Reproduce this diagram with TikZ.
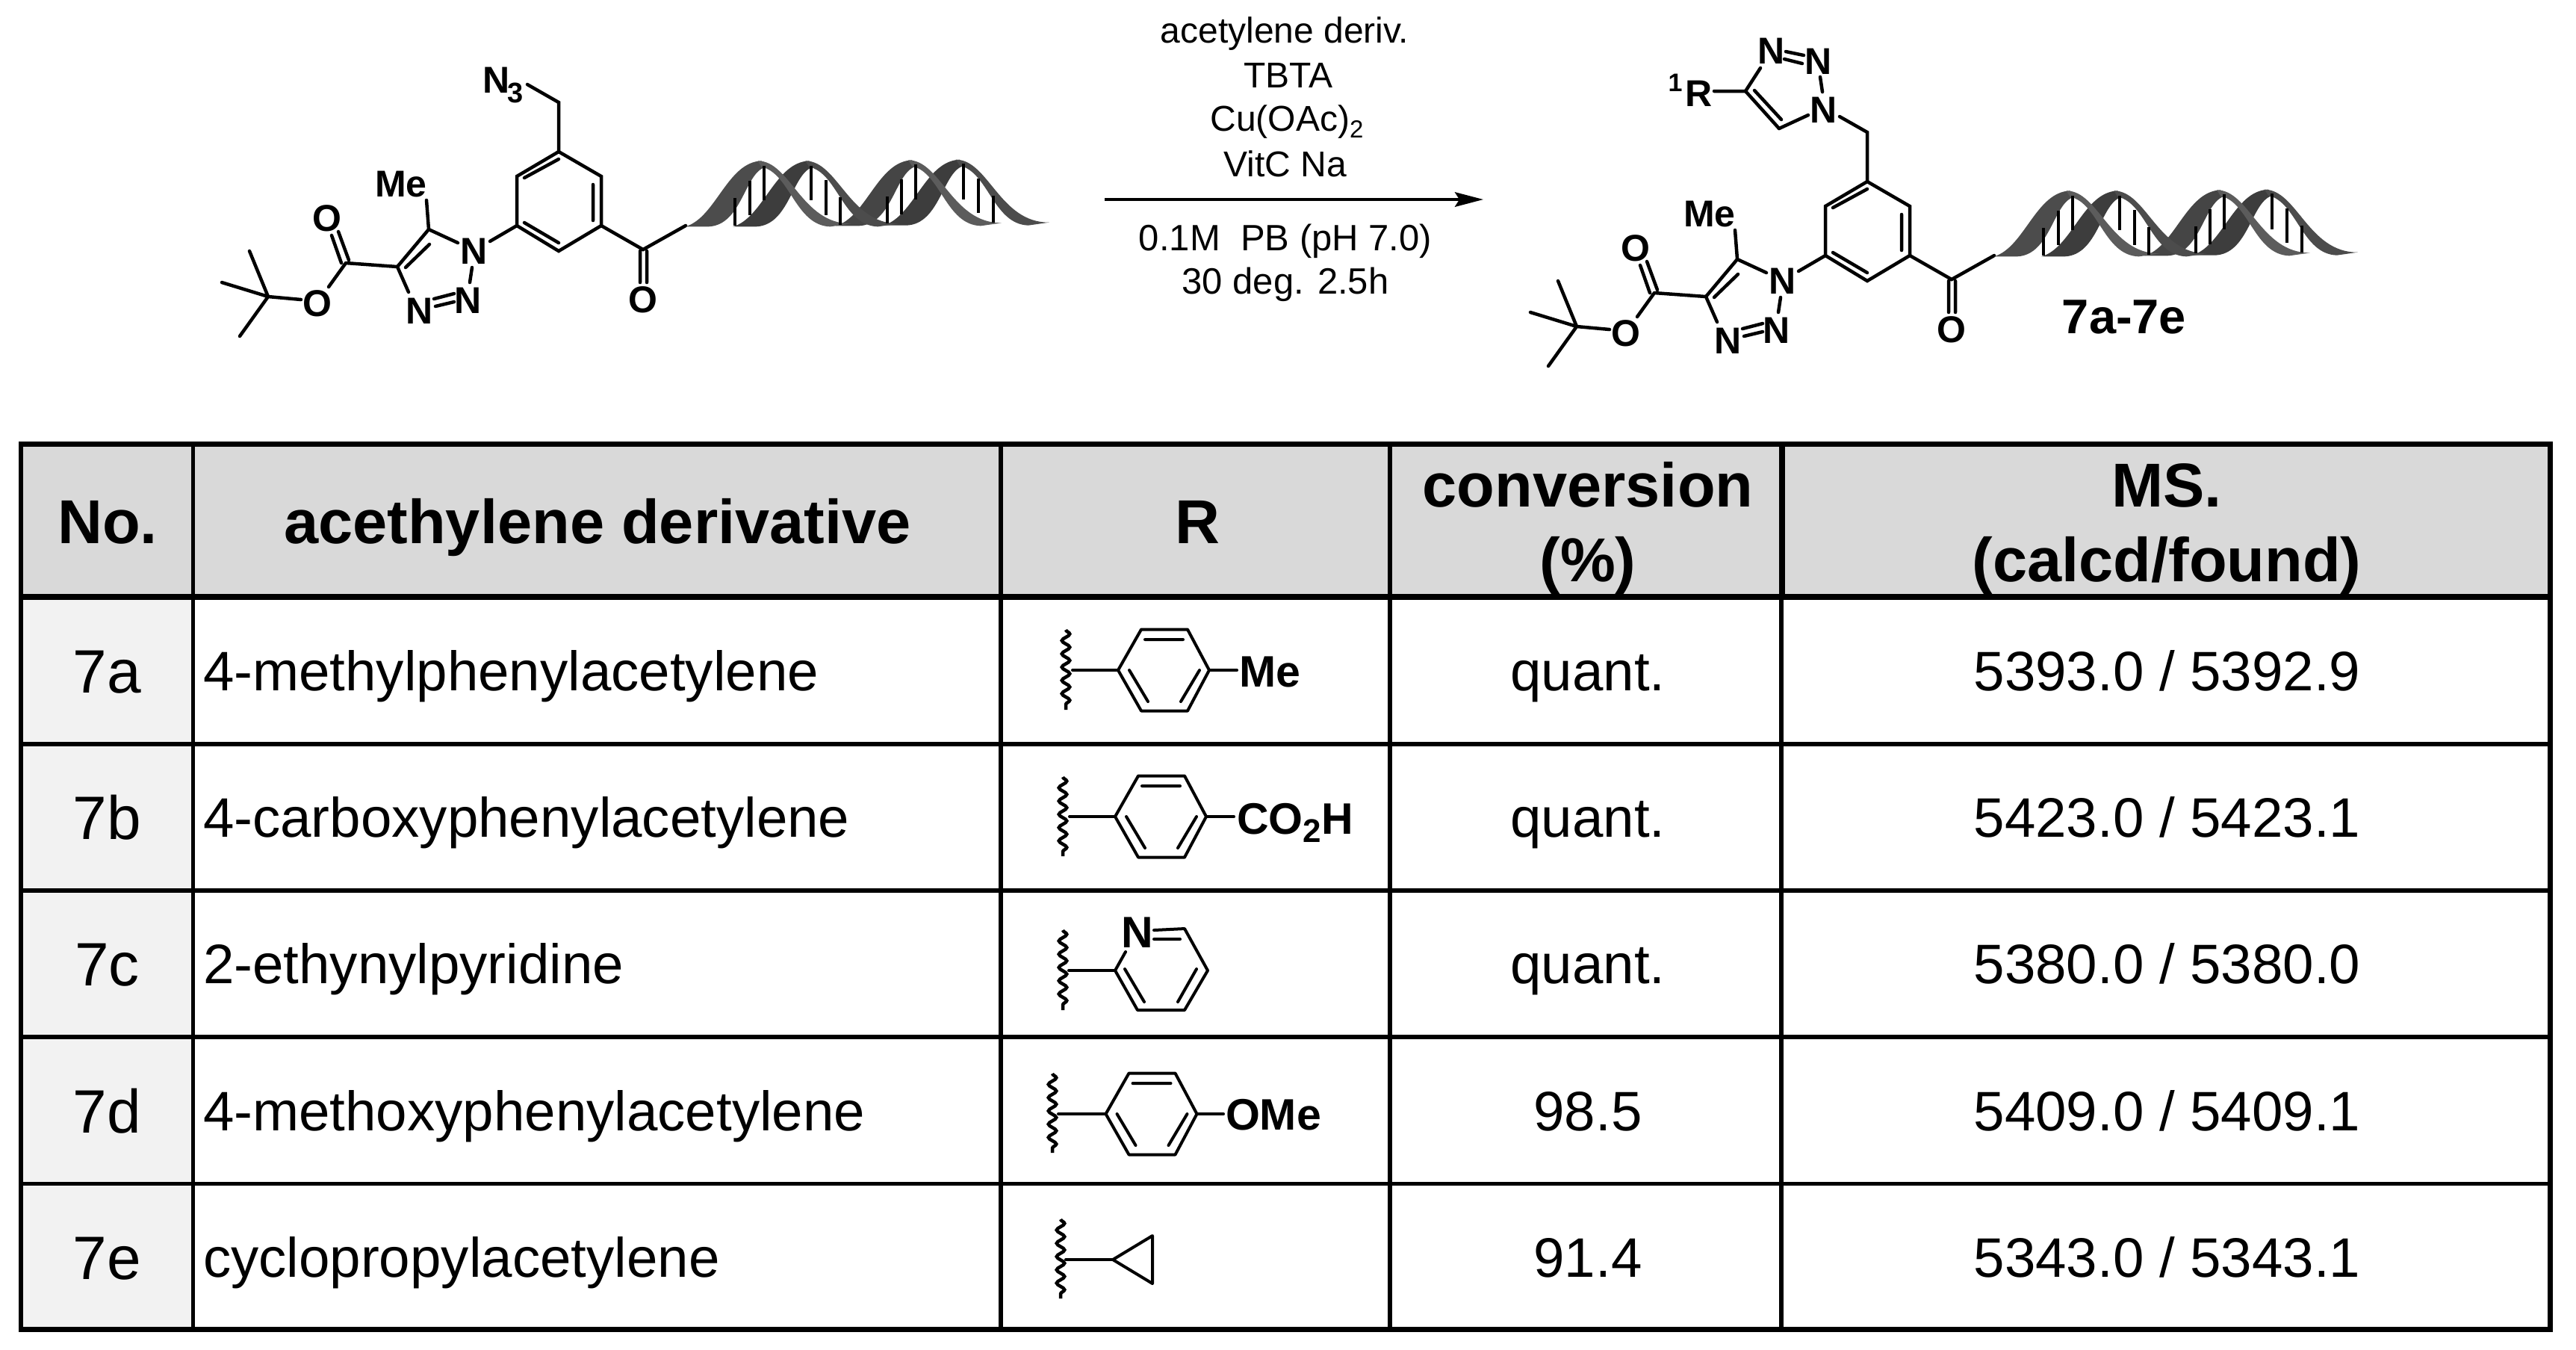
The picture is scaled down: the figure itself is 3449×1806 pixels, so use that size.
\documentclass[tikz,border=0pt]{standalone}
\usepackage{fontspec}
\setmainfont{Liberation Sans}
\usetikzlibrary{arrows.meta,decorations.pathmorphing}
\newcommand\fs[1]{\fontsize{\fpeval{#1*0.2}}{\fpeval{#1*0.24}}\selectfont}
\newcommand\lowsub[2]{\raisebox{-0.2em}{\fs{#1}#2}}
\newcommand\sls{/}
\tikzset{
  x=0.2pt,y=-0.2pt,
  bond/.style={line width=0.9pt,line cap=round,line join=miter},
  rbond/.style={line width=0.8pt,line cap=round,line join=round},
  grid/.style={line width=1.3pt,line cap=rect},
  gridthin/.style={line width=1.1pt},
  gridthick/.style={line width=1.6pt},
  wavy/.style={line width=0.9pt,decorate,decoration={snake,segment length=3.55pt,amplitude=1.05pt}},
  lab/.style={inner sep=0pt,outer sep=0pt,anchor=base},
  atom/.style={lab,font=\fs{50}\bfseries},
  rtxt/.style={lab,font=\fs{48}},
  rtxtb/.style={lab,font=\fs{49}},
  head/.style={lab,font=\fs{83}\bfseries},
  cell/.style={lab,font=\fs{74.5}},
  numcell/.style={lab,font=\fs{82}},
  rlab/.style={lab,anchor=base west,font=\fs{59}\bfseries},
  rung/.style={line width=0.8pt,black},
}
\newcommand\dnarise[3]{\fill[#3,shift={(#1,#2)}] (450,430) .. controls (530,395) and (560,170) .. (650,166) -- (662,190) .. controls (605,210) and (600,425) .. (510,430) -- cycle;}
\newcommand\dnafall[3]{\fill[#3,shift={(#1,#2)}] (640,166) .. controls (725,165) and (755,420) .. (885,418) -- (830,430) .. controls (738,425) and (725,215) .. (650,190) -- cycle;}
\newcommand\molcore[3]{%
\begin{scope}[shift={(#2,#3)}]
 % benzene
 \draw[bond] (748,203) -- (805,236) -- (805,302) -- (748,336) -- (692,302) -- (692,236) -- cycle;
 \draw[bond] (702,238) -- (748,213) (794,247) -- (794,295) (702,298) -- (748,325);
 % triazole
 \draw[bond] (574,307) -- (613,325) (656,323) -- (692,302) (632,358) -- (629,378);
 \draw[bond] (581,400) -- (608,393) (583,410) -- (608,404) (532,357) -- (547,391);
 \draw[bond] (574,307) -- (532,357) (575,327) -- (543,358) (574,307) -- (571,268);
 % ester
 \draw[bond] (463,352) -- (532,357) (463,352) -- (440,384) (444,315) -- (457,352) (453,310) -- (467,348);
 \draw[bond] (403,401) -- (359,397) (334,336) -- (359,397) (297,378) -- (359,397) (321,450) -- (359,397);
 % ketone
 \draw[bond] (805,302) -- (861,334) -- (918,302) (857,336) -- (857,378) (866,336) -- (866,378);
 \node[atom] (#1me) at (537,263) {Me};
 \node[atom] (#1na) at (635,353) {N};
 \node[atom] (#1nb) at (627,419) {N};
 \node[atom] (#1nc) at (562,433) {N};
 \node[atom] (#1oa) at (438,309) {O};
 \node[atom] (#1ob) at (425,423) {O};
 \node[atom] (#1oc) at (861,418) {O};
 \begin{scope}[shift={(688,160)},x=0.10204pt,y=-0.06667pt]
  \dnarise{125}{0}{black!76}
  \dnarise{520}{-5}{black!76}
  \dnarise{0}{0}{black!70}
  \dnarise{395}{-3}{black!73}
  \dnafall{125}{0}{black!70}
  \dnafall{520}{-5}{black!70}
  \dnafall{0}{0}{black!64}
  \dnafall{395}{-3}{black!64}
  \draw[rung] (580,315) -- (580,425) (620,245) -- (620,385) (657,185) -- (657,325);
  \draw[rung] (780,185) -- (780,325) (820,243) -- (820,383) (857,312) -- (857,422);
  \draw[rung] (980,310) -- (980,418) (1018,240) -- (1018,380) (1055,180) -- (1055,320);
  \draw[rung] (1180,178) -- (1180,320) (1220,238) -- (1220,375) (1258,305) -- (1258,415);
 \end{scope}
\end{scope}}
\newcommand\ringR[3]{% centre x, y, id
 \draw[rbond] (#1-61,#2) -- (#1-30,#2-54.5) -- (#1+32,#2-54.5) -- (#1+61,#2) -- (#1+32,#2+54.5) -- (#1-30,#2+54.5) -- cycle;
 \draw[rbond] (#1-25,#2-41) -- (#1+26,#2-41) (#1-46,#2) -- (#1-21,#2+42) (#1+48,#2) -- (#1+23,#2+42);
}
\begin{document}
\begin{tikzpicture}
\useasboundingbox (0,0) rectangle (3449,1806);
% ---------- scheme
\molcore{a}{0}{0}
\draw[bond] (748,203) -- (748,137) -- (706,113);
\node[atom,anchor=base west] (azide) at (646,124) {N};
\node[lab,font=\fs{38}\bfseries] (azidesub) at (690,137) {3};
\molcore{b}{1752}{40}
% product triazole
\draw[bond] (2500,243) -- (2500,177) -- (2463,156);
\draw[bond] (2295,122) -- (2337,122) (2337,122) -- (2357,91) (2337,122) -- (2382,172) (2349,121) -- (2385,160);
\draw[bond] (2382,172) -- (2421,154) (2437,103) -- (2440,123);
\draw[bond] (2391,69) -- (2415,74) (2389,79) -- (2413,85);
\node[atom] (tnb) at (2372,85) {N};
\node[atom] (tnc) at (2435,99) {N};
\node[atom] (tna) at (2442,164) {N};
\node[atom,anchor=base west] (rone) at (2256,142) {R};
\node[lab,font=\fs{34}\bfseries] (rsup) at (2243,122) {1};
\node[lab,font=\fs{65}\bfseries] (prod) at (2844,446) {7a-7e};
% reagents
\node[rtxt] (ra) at (1720,57) {acetylene deriv.};
\node[rtxt] (rb) at (1725,117) {TBTA};
\node[rtxt] (rc) at (1723,175) {Cu(OAc)\lowsub{33}{2}};
\node[rtxt] (rd) at (1721,236) {VitC Na};
\node[rtxtb] (re) at (1721,335) {0.1M\ \ PB (pH 7.0)};
\node[rtxtb] (rf) at (1721,393) {30 deg. 2.5h};
\coordinate (arS) at (1479,267);
\coordinate (arE) at (1986,267);
\draw[line width=0.8pt,-{Stealth[length=7.6pt,width=3.9pt,inset=1.2pt]}] (arS) -- (arE);
% ---------- table
\fill[black!15] (28,594) rectangle (3414,799);
\fill[black!5] (28,799) rectangle (258,1780);
\draw[gridthin] (28,996) -- (3414,996) (28,1192) -- (3414,1192) (28,1388) -- (3414,1388) (28,1584.5) -- (3414,1584.5);
\draw[gridthin] (258.5,799) -- (258.5,1780) (1340,799) -- (1340,1780) (1861,799) -- (1861,1780) (2385,799) -- (2385,1780);
\draw[gridthin] (258.5,594) -- (258.5,799) (1340,594) -- (1340,799) (1861,594) -- (1861,799);
\draw[gridthick] (2386,594) -- (2386,799);
\draw[gridthick] (28,799) -- (3414,799);
\draw[grid] (28,594.5) rectangle (3414.5,1779.5);
\node[head] (hno) at (144,727) {No.};
\node[head] (hac) at (800,727) {acethylene derivative};
\node[head] (hr) at (1603,727) {R};
\node[head] (hca) at (2126,678) {conversion};
\node[head] (hcb) at (2126,778) {(\%)};
\node[head] (hma) at (2901,678) {MS.};
\node[head] (hmb) at (2901,778) {(calcd/found)};
\foreach \id/\yy/\nn/\nm/\acet/\conv/\ms in {
 a/924/927/7a/4-methylphenylacetylene/quant./5393.0 \sls{} 5392.9,
 b/1120/1123/7b/4-carboxyphenylacetylene/quant./5423.0 \sls{} 5423.1,
 c/1316/1319/7c/2-ethynylpyridine/quant./5380.0 \sls{} 5380.0,
 d/1513/1516/7d/4-methoxyphenylacetylene/98.5/5409.0 \sls{} 5409.1,
 e/1709/1712/7e/cyclopropylacetylene/91.4/5343.0 \sls{} 5343.1}{
 \node[numcell] (n\id) at (143.5,\nn) {\nm};
 \node[cell,anchor=base west] (d\id) at (272,\yy) {\acet};
 \node[cell] (c\id) at (2126,\yy) {\conv};
 \node[cell] (m\id) at (2901.5,\yy) {\ms};
}
% R groups
\draw[wavy] (1427,843) -- (1427,950);
\draw[rbond] (1436,897) -- (1497,897) (1619,897) -- (1656,897);
\ringR{1558}{897}{a}
\node[rlab] (rme) at (1659,919) {Me};
\draw[wavy] (1423,1040) -- (1423,1146);
\draw[rbond] (1432,1093) -- (1493,1093) (1616,1093) -- (1652,1093);
\ringR{1554}{1093}{b}
\node[rlab] (rco) at (1656,1116) {CO\lowsub{44}{2}H};
\draw[wavy] (1423,1245) -- (1423,1352);
\draw[rbond] (1431,1299) -- (1493,1299);
\draw[rbond] (1507,1274) -- (1493,1299) -- (1523,1352) -- (1586,1352) -- (1617,1299) -- (1586,1243) -- (1545,1245);
\draw[rbond] (1545,1257) -- (1580,1257) (1506,1297) -- (1532,1341) (1602,1297) -- (1577,1341);
\node[lab,font=\fs{59}\bfseries] (rn) at (1523,1268) {N};
\draw[wavy] (1409,1437) -- (1409,1543);
\draw[rbond] (1417,1491) -- (1481,1491) (1602,1491) -- (1638,1491);
\ringR{1541.5}{1491}{d}
\node[rlab] (rom) at (1641,1512) {OMe};
\draw[wavy] (1420,1632) -- (1420,1738);
\draw[rbond] (1427,1686) -- (1490,1686);
\draw[rbond] (1490,1686) -- (1543,1654) -- (1543,1718) -- cycle;
\end{tikzpicture}
\end{document}
